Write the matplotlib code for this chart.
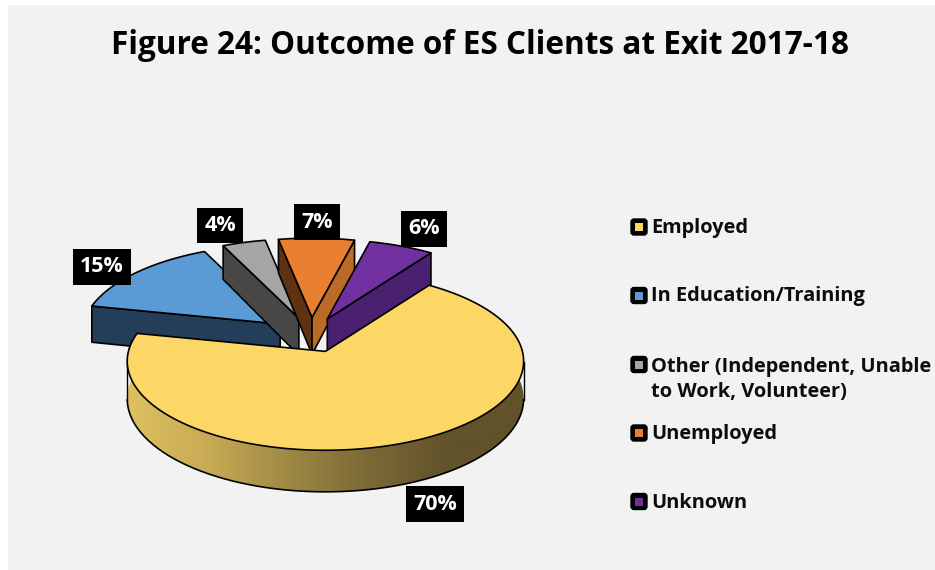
import numpy as np
import matplotlib
matplotlib.use('Agg')
import matplotlib.pyplot as plt
from matplotlib.colors import LinearSegmentedColormap
from matplotlib.patches import Rectangle, FancyBboxPatch, Polygon

plt.rcParams['font.family'] = ['Open Sans', 'DejaVu Sans']

categories = ['Employed', 'In Education/Training', 'Other (Independent, Unable\nto Work, Volunteer)', 'Unemployed', 'Unknown']
values = [70, 15, 4, 7, 6]
labels = ['70%', '15%', '4%', '7%', '6%']
colors = ['#FCD766', '#5B9BD5', '#A5A5A5', '#E97F31', '#7030A0']
left_walls = [None, '#243D58', '#474747', '#5F3311', None]
right_walls = [None, None, None, '#BC6A28', '#4A2070']
label_pos = [(435, 504), (102, 267), (220, 225.5), (317, 222), (424, 229)]
legend_y = [227, 295.5, 364.5, 433, 501.5]
legend_text_y = [228, 296.5, 379.5, 434, 502.5]

# pie geometry in pixels, the reference is a tilted 3d pie with perspective
cx, cy = 311, 335
rx, ry = 197, 88
persp = 0.11
depth = 37
explode = 0.2
start = 55

fig = plt.figure(figsize=(9.35, 5.7), dpi=100, facecolor='white')
ax = fig.add_axes([0, 0, 1, 1])
ax.set_axis_off()
ax.add_patch(Rectangle((8, 5), 930, 566, fc='#F2F2F2', ec='none', zorder=0))


def rim(apex, t):
    s = 1 / (1 + persp * np.sin(t))
    return apex[0] + rx * np.cos(t) * s, apex[1] - ry * np.sin(t) * s, depth * s


def edge_wall(apex, t, color, z):
    x, y, d = rim(apex, t)
    ax.add_patch(Polygon([apex, (x, y), (x, y + d), (apex[0], apex[1] + depth)],
                         fc=color, ec='black', lw=1.2, joinstyle='round', zorder=z))


sweeps = np.radians(np.array(values) / sum(values) * 360)
ends = np.radians(start) - np.cumsum(sweeps)
starts = ends + sweeps

# back slices first, the big yellow one goes on top of them
for z, i in enumerate([1, 2, 3, 4, 0]):
    z = z + 1
    mid = (starts[i] + ends[i]) / 2
    apex = (cx + explode * rx * np.cos(mid), cy - explode * ry * np.sin(mid))
    ts = np.linspace(starts[i], ends[i], 300)
    xs, ys, ds = rim(apex, ts)
    if i == 0:
        # outer wall with the dark gradient
        wall = Polygon(np.vstack([np.column_stack([xs, ys]), np.column_stack([xs, ys + ds])[::-1]]),
                       fc='none', ec='none')
        ax.add_patch(wall)
        grad = LinearSegmentedColormap.from_list('wall', ['#DFC160', '#C9AC55', '#A08A45', '#7C6A36', '#61522A', '#61522A'])
        im = ax.imshow(np.linspace(0, 1, 256).reshape(1, -1), cmap=grad, aspect='auto',
                       extent=(xs.min() - 4, xs.max() + 4, ys.max() + 50, ys.min()), zorder=z)
        im.set_clip_path(wall)
        # the widest points of the rim sit a little below the middle because of the perspective
        low = np.sin(ts) <= -persp
        ax.plot(xs[low], ys[low] + ds[low], color='black', lw=1.2, zorder=z)
        for k in [0, -1]:
            ax.plot(xs[low][[k, k]], [ys[low][k], ys[low][k] + ds[low][k]], color='black', lw=1.0, zorder=z)
    if left_walls[i]:
        edge_wall(apex, starts[i], left_walls[i], z)
    if right_walls[i]:
        edge_wall(apex, ends[i], right_walls[i], z)
    ax.add_patch(Polygon(np.vstack([[apex], np.column_stack([xs, ys])]), closed=True,
                         fc=colors[i], ec='black', lw=1.2, joinstyle='round', zorder=z + 0.5))

for lab, pos in zip(labels, label_pos):
    ax.text(pos[0], pos[1], lab, color='white', fontsize=15.5, fontweight='bold', ha='center', va='center',
            bbox=dict(boxstyle='square,pad=0.33', fc='black', ec='none'), zorder=10)

for cat, col, y, ty in zip(categories, colors, legend_y, legend_text_y):
    ax.add_patch(FancyBboxPatch((631, y - 8), 16, 16, boxstyle='round,pad=0,rounding_size=3',
                                fc='black', ec='black', lw=1, zorder=8))
    ax.add_patch(Rectangle((635, y - 4), 8, 8, fc=col, ec='none', zorder=9))
    ax.text(651, ty, cat, fontsize=14.4, fontweight='bold', color='#0D0D0D', va='center', ha='left',
            linespacing=1.35, zorder=9)

ax.text(480, 45, 'Figure 24: Outcome of ES Clients at Exit 2017-18', fontsize=22.7, fontweight='bold',
        color='black', ha='center', va='center')

ax.set_xlim(0, 935)
ax.set_ylim(570, 0)
fig.savefig('out.png', dpi=100)
